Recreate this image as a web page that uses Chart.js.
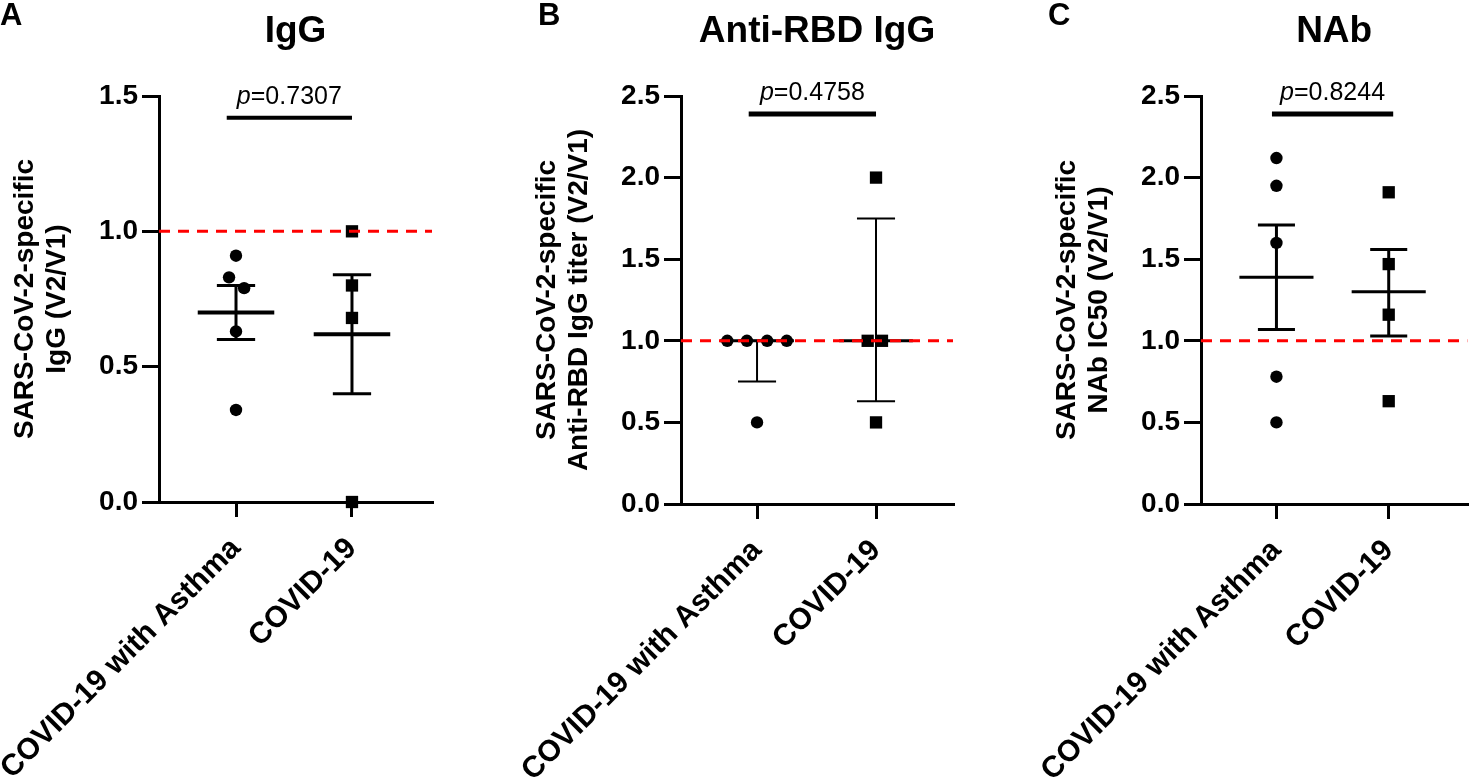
<!DOCTYPE html>
<html>
<head>
<meta charset="utf-8">
<script src="https://cdn.jsdelivr.net/npm/chart.js@4"></script>
<style>
html, body { margin: 0; padding: 0; background: #fff; }
#wrap { position: relative; width: 1476px; height: 783px; overflow: hidden; }
canvas { position: absolute; top: 0; }
</style>
</head>
<body>
<div id="wrap">
  <canvas id="panelA" width="470" height="783" style="left:0px"></canvas>
  <canvas id="panelB" width="500" height="783" style="left:492px"></canvas>
  <canvas id="panelC" width="464" height="783" style="left:1012px"></canvas>
</div>
<script>
// groups on the x axis
const categories = ['COVID-19 with Asthma', 'COVID-19'];

// A - IgG (mean +/- SEM)
const iggAsthma = [0.91, 0.83, 0.79, 0.63, 0.34];
const iggAsthmaJitter = [0, -0.06, 0.07, 0, 0];
const iggCovid = [1.0, 0.80, 0.68, 0.0];
const iggCovidJitter = [0, 0, 0, 0];
const iggCenter = [0.70, 0.62];
const iggUpper = [0.80, 0.84];
const iggLower = [0.60, 0.40];

// B - Anti-RBD IgG (median, interquartile range)
const rbdAsthma = [1.0, 1.0, 1.0, 1.0, 0.5];
const rbdAsthmaJitter = [-0.25, -0.085, 0.085, 0.25, 0];
const rbdCovid = [2.0, 1.0, 1.0, 0.5];
const rbdCovidJitter = [0, -0.07, 0.05, 0];
const rbdCenter = [1.0, 1.0];
const rbdUpper = [1.0, 1.75];
const rbdLower = [0.75, 0.63];

// C - NAb (mean +/- SEM)
const nabAsthma = [2.12, 1.95, 1.60, 0.78, 0.50];
const nabAsthmaJitter = [0, 0, 0, 0, 0];
const nabCovid = [1.91, 1.47, 1.16, 0.63];
const nabCovidJitter = [0, 0, 0, 0];
const nabCenter = [1.39, 1.30];
const nabUpper = [1.71, 1.56];
const nabLower = [1.07, 1.03];

const yTicksMax = [1.5, 2.5, 2.5];
const pValues = ['0.7307', '0.4758', '0.8244'];
const referenceLevel = 1.0;

const FONT = '"Liberation Sans", Arial, Helvetica, sans-serif';

const panelText = {
  id: 'panelText',
  afterDraw(chart, args, o) {
    const { ctx, chartArea, scales } = chart;
    ctx.save();
    ctx.fillStyle = '#000';
    ctx.textBaseline = 'alphabetic';
    // panel letter
    ctx.textAlign = 'left';
    ctx.font = 'bold 31px ' + FONT;
    ctx.fillText(o.letter, o.letterX, 25);
    // panel title
    ctx.textAlign = 'center';
    ctx.font = 'bold 37px ' + FONT;
    ctx.fillText(o.title, (chartArea.left + chartArea.right) / 2, 42);
    // p value over the bracket
    const cx = (scales.x.getPixelForValue(o.bracket[0]) + scales.x.getPixelForValue(o.bracket[1])) / 2;
    const by = scales.y.getPixelForValue(o.bracketY) - 14;
    ctx.font = 'italic 25px ' + FONT;
    const wp = ctx.measureText('p').width;
    ctx.font = '25px ' + FONT;
    const rest = '=' + o.p;
    const wr = ctx.measureText(rest).width;
    const x0 = cx - (wp + wr) / 2;
    ctx.textAlign = 'left';
    ctx.font = 'italic 25px ' + FONT;
    ctx.fillText('p', x0, by);
    ctx.font = '25px ' + FONT;
    ctx.fillText(rest, x0 + wp, by);
    ctx.restore();
  }
};

function lineSet(pts, w, color, dash) {
  return {
    data: pts,
    showLine: true,
    borderColor: color || '#000',
    borderWidth: w,
    borderDash: dash || [],
    borderCapStyle: 'butt',
    pointRadius: 0,
    fill: false,
    tension: 0,
    clip: false
  };
}

function errorSets(i, center, upper, lower, st) {
  return [
    lineSet([{ x: i - st.meanHalf, y: center }, { x: i + st.meanHalf, y: center }], st.meanW),
    lineSet([{ x: i, y: lower }, { x: i, y: upper }], st.barW),
    lineSet([{ x: i - st.capHalf, y: upper }, { x: i + st.capHalf, y: upper }], st.barW),
    lineSet([{ x: i - st.capHalf, y: lower }, { x: i + st.capHalf, y: lower }], st.barW)
  ];
}

function pointSet(values, jitter, i, style, r) {
  return {
    data: values.map((v, k) => ({ x: i + jitter[k], y: v })),
    showLine: false,
    pointStyle: style,
    pointRadius: r,
    pointBackgroundColor: '#000',
    pointBorderWidth: 0,
    clip: false
  };
}

function makePanel(cfg) {
  const st = cfg.style;
  const datasets = [
    lineSet([{ x: cfg.xMin, y: referenceLevel }, { x: cfg.xMax, y: referenceLevel }], 3, '#ff0000', [11, 8]),
    pointSet(cfg.asthma, cfg.asthmaJitter, 1, 'circle', 6.2),
    pointSet(cfg.covid, cfg.covidJitter, 2, 'rect', 8.7),
    ...errorSets(1, cfg.center[0], cfg.upper[0], cfg.lower[0], st),
    ...errorSets(2, cfg.center[1], cfg.upper[1], cfg.lower[1], st),
    lineSet([{ x: cfg.bracket[0], y: cfg.bracketY }, { x: cfg.bracket[1], y: cfg.bracketY }], st.bracketW)
  ];

  return new Chart(document.getElementById(cfg.id), {
    type: 'scatter',
    data: { datasets },
    plugins: [panelText],
    options: {
      responsive: false,
      animation: false,
      events: [],
      layout: { padding: { top: 96, left: 0, right: cfg.padRight, bottom: 0 } },
      plugins: {
        legend: { display: false },
        tooltip: { enabled: false },
        panelText: {
          letter: cfg.letter, letterX: cfg.letterX, title: cfg.title,
          p: cfg.p, bracket: cfg.bracket, bracketY: cfg.bracketY
        }
      },
      scales: {
        x: {
          type: 'linear',
          min: cfg.xMin,
          max: cfg.xMax,
          afterBuildTicks: s => { s.ticks = categories.map((c, k) => ({ value: k + 1 })); },
          afterFit: s => { s.height = cfg.xAxisH; s.paddingLeft = 0; s.paddingRight = 0; },
          border: { display: true, color: '#000', width: 3 },
          grid: { drawOnChartArea: false, drawTicks: true, tickLength: 15, lineWidth: 3, color: '#000' },
          ticks: {
            autoSkip: false,
            minRotation: 45,
            maxRotation: 45,
            padding: 14,
            color: '#000',
            font: { family: FONT, size: 30, weight: 'bold' },
            callback: v => categories[Math.round(v) - 1] || ''
          }
        },
        y: {
          min: 0,
          max: cfg.yMax,
          afterFit: s => { s.width = cfg.yAxisW; s.paddingTop = 0; s.paddingBottom = 0; },
          border: { display: true, color: '#000', width: 3 },
          grid: { drawOnChartArea: false, drawTicks: true, tickLength: 17, lineWidth: 3, color: '#000' },
          ticks: {
            stepSize: 0.5,
            padding: 4,
            color: '#000',
            font: { family: FONT, size: 28, weight: 'bold' },
            callback: v => v.toFixed(1)
          },
          title: {
            display: true,
            text: cfg.yTitle,
            color: '#000',
            padding: { top: cfg.yTitlePad, bottom: 0 },
            font: { family: FONT, size: 28, weight: 'bold', lineHeight: 1.15 }
          }
        }
      }
    }
  });
}

makePanel({
  id: 'panelA', letter: 'A', letterX: 0, title: 'IgG',
  yTitle: ['SARS-CoV-2-specific', 'IgG (V2/V1)'],
  yMax: yTicksMax[0], p: pValues[0],
  asthma: iggAsthma, asthmaJitter: iggAsthmaJitter, covid: iggCovid, covidJitter: iggCovidJitter,
  center: iggCenter, upper: iggUpper, lower: iggLower,
  xMin: 0.336, xMax: 2.69, yAxisW: 159, yTitlePad: 9, xAxisH: 281, padRight: 38,
  bracket: [0.92, 2.0], bracketY: 1.42,
  style: { meanHalf: 0.33, capHalf: 0.165, meanW: 4, barW: 3, bracketW: 4 }
});

makePanel({
  id: 'panelB', letter: 'B', letterX: 46, title: 'Anti-RBD IgG',
  yTitle: ['SARS-CoV-2-specific', 'Anti-RBD IgG titer (V2/V1)'],
  yMax: yTicksMax[1], p: pValues[1],
  asthma: rbdAsthma, asthmaJitter: rbdAsthmaJitter, covid: rbdCovid, covidJitter: rbdCovidJitter,
  center: rbdCenter, upper: rbdUpper, lower: rbdLower,
  xMin: 0.361, xMax: 2.647, yAxisW: 189, yTitlePad: 39, xAxisH: 279, padRight: 39,
  bracket: [0.93, 2.0], bracketY: 2.39,
  style: { meanHalf: 0.31, capHalf: 0.16, meanW: 3, barW: 2, bracketW: 5 }
});

makePanel({
  id: 'panelC', letter: 'C', letterX: 36, title: 'NAb',
  yTitle: ['SARS-CoV-2-specific', 'NAb IC50 (V2/V1)'],
  yMax: yTicksMax[2], p: pValues[2],
  asthma: nabAsthma, asthmaJitter: nabAsthmaJitter, covid: nabCovid, covidJitter: nabCovidJitter,
  center: nabCenter, upper: nabUpper, lower: nabLower,
  xMin: 0.328, xMax: 2.70, yAxisW: 189, yTitlePad: 39, xAxisH: 279, padRight: 0,
  bracket: [0.96, 2.04], bracketY: 2.39,
  style: { meanHalf: 0.33, capHalf: 0.165, meanW: 3, barW: 3, bracketW: 5 }
});
</script>
</body>
</html>
